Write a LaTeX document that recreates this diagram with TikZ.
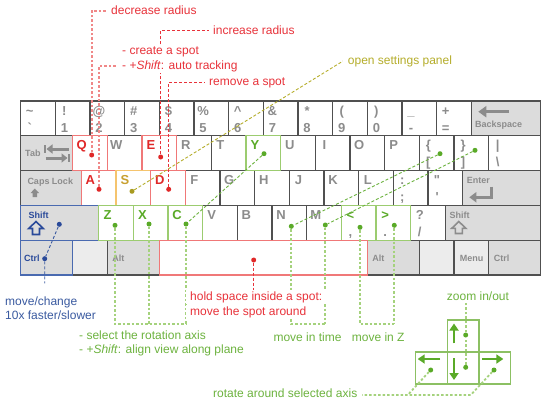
\documentclass[tikz,border=0pt]{standalone}
\usepackage{fontspec}
\setmainfont{Liberation Sans}
\usetikzlibrary{positioning,arrows.meta}
\pgfdeclarelayer{leads}
\pgfdeclarelayer{notes}
\pgfsetlayers{main,leads,notes}

\definecolor{keyline}{HTML}{505050}
\definecolor{keyfill}{HTML}{DCDCDC}
\definecolor{keylight}{HTML}{ECECEC}
\definecolor{keytext}{HTML}{8C8C8C}
\definecolor{txtred}{HTML}{E02828}
\definecolor{txtyel}{HTML}{C8A030}
\definecolor{txtgreen}{HTML}{5AAA28}
\definecolor{txtblue}{HTML}{2A4A9A}
\definecolor{hlred}{HTML}{F07878}
\definecolor{hlyel}{HTML}{F5C46E}
\definecolor{hlgreen}{HTML}{9CCC70}
\definecolor{hlblue}{HTML}{4A6AB0}
\definecolor{padgreen}{HTML}{8CC063}
\definecolor{notered}{HTML}{E8323A}
\definecolor{noteolive}{HTML}{B5AD2A}
\definecolor{notegreen}{HTML}{6DB33F}
\definecolor{noteblue}{HTML}{3A5AA0}
\definecolor{leadpink}{HTML}{F08888}
\definecolor{leadlight}{HTML}{A5D27D}
\definecolor{dotolive}{HTML}{A89A20}

\tikzset{
  key/.style={draw=keyline, line width=1.2pt, fill=white, minimum width=34.67pt,
    minimum height=34.8pt, anchor=north west, inner sep=0pt, outer sep=0pt},
  wide/.style={minimum width=#1*34.67pt},
  modkey/.style={fill=keyfill},
  blankkey/.style={fill=keylight},
  keylbl/.style={font=\fontsize{13}{13}\selectfont\bfseries, text=keytext, inner sep=0pt, anchor=base},
  upperlbl/.style={label={[keylbl, xshift=9pt, yshift=-14pt]north west:{#1}}},
  lowerlbl/.style={label={[keylbl, xshift=9pt, yshift=-31pt]north west:{#1}}},
  keycap/.style args={#1/#2/#3}{label={[keylbl, font=\fontsize{9}{9}\selectfont\bfseries,
    anchor=base west, xshift=#1pt, yshift=-#2pt]north west:{#3}}},
  icon/.style={draw=keytext, line width=3pt},
  arrowkey/.style={draw=padgreen, line width=1.5pt, fill=white, minimum width=31.7pt,
    minimum height=32pt, anchor=north west, inner sep=0pt, outer sep=0pt},
  padarrow/.style={draw=txtgreen, line width=2.6pt, -{Triangle[length=7pt,width=9pt]}},
  spotdot/.style={circle, fill=#1, inner sep=0pt, minimum size=5pt},
  lead/.style={draw=#1, line width=0.9pt, dash pattern=on 3pt off 2pt},
  fatlead/.style={draw=#1, line width=1.8pt, dash pattern=on 2.5pt off 2pt},
  note/.style={text=#1, font=\fontsize{12}{14}\selectfont, fill=white,
    inner xsep=4.5pt, inner ysep=1.5pt, anchor=base west},
}

\begin{document}
\begin{tikzpicture}[x=1pt,y=-1pt]
\useasboundingbox (0,0) rectangle (548,404);

% keyboard
\node[key, upperlbl=\textasciitilde, lowerlbl=\textasciigrave] (tilde) at (20.7,101) {};
\node[key, upperlbl=!, lowerlbl=1, right=0pt of tilde] (one) {};
\node[key, upperlbl=@, lowerlbl=2, right=0pt of one] (two) {};
\node[key, upperlbl=\#, lowerlbl=3, right=0pt of two] (three) {};
\node[key, upperlbl=\$, lowerlbl=4, right=0pt of three] (four) {};
\node[key, upperlbl=\%, lowerlbl=5, right=0pt of four] (five) {};
\node[key, upperlbl=\textasciicircum, lowerlbl=6, right=0pt of five] (six) {};
\node[key, upperlbl=\&, lowerlbl=7, right=0pt of six] (seven) {};
\node[key, upperlbl=*, lowerlbl=8, right=0pt of seven] (eight) {};
\node[key, upperlbl=(, lowerlbl=9, right=0pt of eight] (nine) {};
\node[key, upperlbl=), lowerlbl=0, right=0pt of nine] (zero) {};
\node[key, upperlbl=\_, lowerlbl=-, right=0pt of zero] (minus) {};
\node[key, upperlbl=+, lowerlbl={=}, right=0pt of minus] (equal) {};
\node[key, modkey, wide=2, keycap=3.6/26.3/Backspace, right=0pt of equal] (bksp) {};

\node[key, modkey, wide=1.5, keycap=4.3/21/Tab] (tab) at (20.7,135.8) {};
\foreach \kn/\kt [remember=\kn as \kp (initially tab)] in {q/\textcolor{txtred}{Q},w/W,e/\textcolor{txtred}{E},r/R,t/T,y/\textcolor{txtgreen}{Y},u/U,i/I,o/O,p/P}
  \node[key, upperlbl=\kt, right=0pt of \kp] (\kn) {};
\node[key, upperlbl=\{, lowerlbl={[}, right=0pt of p] (lbrace) {};
\node[key, upperlbl=\}, lowerlbl={]}, right=0pt of lbrace] (rbrace) {};
\node[key, wide=1.5, upperlbl=|, lowerlbl=\textbackslash, right=0pt of rbrace] (bslash) {};

\node[key, modkey, wide=1.75, keycap=6.6/13.7/Caps Lock] (caps) at (20.7,170.6) {};
\foreach \kn/\kt [remember=\kn as \kp (initially caps)] in {a/\textcolor{txtred}{A},s/\textcolor{txtyel}{S},d/\textcolor{txtred}{D},f/F,g/G,h/H,j/J,k/K,l/L}
  \node[key, upperlbl=\kt, right=0pt of \kp] (\kn) {};
\node[key, upperlbl={:}, lowerlbl={;}, right=0pt of l] (semi) {};
\node[key, upperlbl=\textquotedbl, lowerlbl=\textquotesingle, right=0pt of semi] (quote) {};
\node[key, modkey, wide=2.25, keycap=4/12.7/Enter, right=0pt of quote] (enter) {};

\node[key, modkey, wide=2.25, keycap=7.6/13/{\textcolor{txtblue}{Shift}}] (lshift) at (20.7,205.4) {};
\foreach \kn/\kt [remember=\kn as \kp (initially lshift)] in {z/\textcolor{txtgreen}{Z},x/\textcolor{txtgreen}{X},c/\textcolor{txtgreen}{C},v/V,b/B,n/N,m/M}
  \node[key, upperlbl=\kt, right=0pt of \kp] (\kn) {};
\node[key, upperlbl=\textcolor{txtgreen}{<}, lowerlbl={,}, right=0pt of m] (comma) {};
\node[key, upperlbl=\textcolor{txtgreen}{>}, lowerlbl=., right=0pt of comma] (period) {};
\node[key, upperlbl=?, lowerlbl=/, right=0pt of period] (slash) {};
\node[key, modkey, wide=2.75, keycap=4/13/Shift, right=0pt of slash] (rshift) {};

\node[key, modkey, wide=1.5, keycap=3.3/21.5/{\textcolor{txtblue}{Ctrl}}] (lctrl) at (20.7,240.2) {};
\node[key, blankkey, right=0pt of lctrl] (lwin) {};
\node[key, modkey, wide=1.5, keycap=4.7/21.5/Alt, right=0pt of lwin] (lalt) {};
\node[key, wide=6, right=0pt of lalt] (space) {};
\node[key, modkey, wide=1.5, keycap=4.7/21.5/Alt, right=0pt of space] (ralt) {};
\node[key, blankkey, right=0pt of ralt] (rwin) {};
\node[key, blankkey, keycap=5.7/21.5/Menu, right=0pt of rwin] (menu) {};
\node[key, modkey, wide=1.5, keycap=5/21.5/Ctrl, right=0pt of menu] (rctrl) {};

\foreach \kn/\kc in {q/hlred,e/hlred,y/hlgreen,a/hlred,s/hlyel,d/hlred,lshift/hlblue,z/hlgreen,x/hlgreen,c/hlgreen,comma/hlgreen,period/hlgreen,lctrl/hlblue,space/hlred}
  \draw[\kc, line width=1.2pt] (\kn.north west) rectangle (\kn.south east);

% key icons
\draw[icon, -{Triangle[length=6pt,width=9pt]}] (68.5,149) -- (46.5,149);
\draw[keytext, line width=2pt] (45.3,145.3) -- (45.3,152.7);
\draw[icon, -{Triangle[length=6pt,width=9pt]}] (45.5,158) -- (67.5,158);
\draw[keytext, line width=2pt] (68.7,154.3) -- (68.7,161.7);
\draw[icon, line width=3.5pt, -{Triangle[length=8pt,width=11pt]}] (509,111.7) -- (478.3,111.7);
\draw[icon, -{Triangle[length=7pt,width=10pt]}] (491.7,186.5) -- (491.7,197.3) -- (469.3,197.3);
\fill[keytext] (34.8,188.5) -- (39,193) -- (37,193) -- (37,197) -- (32.6,197) -- (32.6,193) -- (30.6,193) -- cycle;
\draw[txtblue, line width=1.6pt] (36,221.5) -- (43.3,228.5) -- (39.5,228.5) -- (39.5,234.5) -- (32.5,234.5) -- (32.5,228.5) -- (28.7,228.5) -- cycle;
\draw[keytext, line width=1.6pt] (458.8,221.5) -- (465.8,228.3) -- (462.3,228.3) -- (462.3,233.5) -- (455.3,233.5) -- (455.3,228.3) -- (451.8,228.3) -- cycle;

% arrow keys
\node[arrowkey] (upk) at (447.3,320) {};
\node[arrowkey, below=0pt of upk] (dnk) {};
\node[arrowkey, left=0pt of dnk] (lfk) {};
\node[arrowkey, right=0pt of dnk] (rtk) {};
\draw[padarrow] (454,343.3) -- (454,323.5);
\draw[padarrow] (454,358.3) -- (454,380);
\draw[padarrow] (440,359) -- (417.7,359);
\draw[padarrow] (482.3,359) -- (503.3,359);

% spots
\node[spotdot=txtred] (qdot) at (91.7,155) {};
\node[spotdot=txtred] (edot) at (160.7,157) {};
\node[spotdot=txtred] (adot) at (99,189.3) {};
\node[spotdot=txtred] (ddot) at (168.7,189.3) {};
\node[spotdot=txtred] (spdot) at (253.7,260) {};
\node[spotdot=dotolive] (sdot) at (132,191.3) {};
\node[spotdot=txtgreen] (ydot) at (264,153.7) {};
\node[spotdot=txtgreen] (lbdot) at (440,153.7) {};
\node[spotdot=txtgreen] (rbdot) at (475,150.3) {};
\node[spotdot=txtgreen] (zdot) at (115,225.3) {};
\node[spotdot=txtgreen] (xdot) at (149,224) {};
\node[spotdot=txtgreen] (cdot) at (186,224) {};
\node[spotdot=txtgreen] (ndot) at (291.3,226.3) {};
\node[spotdot=txtgreen] (mdot) at (325.3,225) {};
\node[spotdot=txtgreen] (ltdot) at (360,227.3) {};
\node[spotdot=txtgreen] (gtdot) at (394.3,225.3) {};
\node[spotdot=txtblue] (lsdot) at (59.3,224.3) {};
\node[spotdot=txtblue] (lcdot) at (44.7,258.7) {};
\node[spotdot=txtgreen] (updot) at (465.7,335) {};
\node[spotdot=txtgreen] (dndot) at (465.7,367.3) {};
\node[spotdot=txtgreen] (lfdot) at (430.7,370) {};
\node[spotdot=txtgreen] (rtdot) at (494,370) {};

% notes
\begin{pgfonlayer}{notes}
\node[note=notered] (tdec) at (106.5,15) {decrease radius};
\node[note=notered] (tinc) at (208.5,35) {increase radius};
\node[note=notered] (tcreate) at (117.5,55) {- create a spot};
\node[note=notered] (ttrack) at (117.5,69) {- +\textit{Shift}: auto tracking};
\node[note=notered] (trem) at (204.5,85) {remove a spot};
\node[note=noteolive] (tset) at (343.2,64) {open settings panel};
\node[note=noteblue] (tmove1) at (0.5,305) {move/change};
\node[note=noteblue] (tmove2) at (0.5,319.3) {10x faster/slower};
\node[note=notered] (thold1) at (185.5,300) {hold space inside a spot:};
\node[note=notered] (thold2) at (185.5,315) {move the spot around};
\node[note=notegreen] (tsel1) at (74.5,339) {- select the rotation axis};
\node[note=notegreen] (tsel2) at (74.5,353.3) {- +\textit{Shift}: align view along plane};
\node[note=notegreen] (ttime) at (268.8,341.7) {move in time};
\node[note=notegreen] (tz) at (347.2,341.7) {move in Z};
\node[note=notegreen, anchor=base] (tzoom) at (478,300) {zoom in/out};
\node[note=notegreen] (trot) at (208.5,397.7) {rotate around selected axis};
\end{pgfonlayer}

% leads
\coordinate (lcend) at (44.7,283.3);
\coordinate (axisR) at (186,324);
\coordinate (timeR) at (325.3,324);
\coordinate (zR) at (394.3,324);
\coordinate (rotL) at (407.7,395);
\coordinate (rotR) at (470.7,395);
\begin{pgfonlayer}{leads}
\draw[fatlead=leadpink] (qdot) |- (tdec.west);
\draw[fatlead=leadpink] (adot) |- (ttrack.west);
\draw[lead=notered] (edot) |- (tinc.west);
\draw[lead=notered] (ddot) |- (trem.west);
\draw[lead=notered] (spdot) -- (spdot |- thold1.north);
\draw[lead=noteolive] (sdot) -- (tset.west);
\draw[lead=notegreen] (ydot) -- (cdot);
\draw[lead=notegreen] (lbdot) -- (ndot);
\draw[lead=notegreen] (rbdot) -- (mdot);
\draw[lead=noteblue] (lsdot) -- (lcdot) -- (lcend);
\draw[fatlead=leadlight] (zdot) |- (axisR);
\draw[fatlead=leadlight] (xdot) -- (xdot |- axisR);
\draw[fatlead=leadlight] (cdot) -- (axisR);
\draw[fatlead=leadlight] (ndot) |- (timeR);
\draw[fatlead=leadlight] (mdot) -- (timeR);
\draw[fatlead=leadlight] (ltdot) |- (zR);
\draw[fatlead=leadlight] (gtdot) -- (zR);
\draw[fatlead=leadlight] (dndot) -- (updot) -- (updot |- tzoom.south);
\draw[fatlead=leadlight] (lfdot) -- (rotL);
\draw[fatlead=leadlight] (rtdot) -- (rotR) -- (rotR -| trot.east);
\end{pgfonlayer}
\end{tikzpicture}
\end{document}
